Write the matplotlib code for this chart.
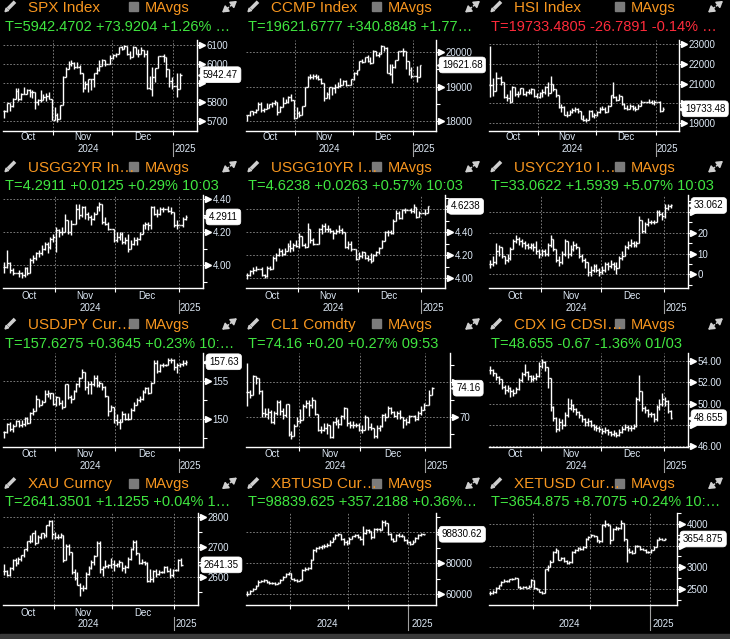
import numpy as np
import pandas as pd
import matplotlib
matplotlib.use("Agg")
import matplotlib.pyplot as plt
import matplotlib.transforms as mtransforms
from matplotlib.ticker import MultipleLocator, FuncFormatter
from matplotlib.patches import Rectangle, Polygon

plt.rcParams['font.family'] = ['Liberation Sans', 'DejaVu Sans']

W, H = 730, 639
ORANGE = '#f7961f'
GREEN = '#40e640'
RED = '#ff2b3b'
TICKC = '#dde8f5'
GRIDC = '#8c8c8c'
ICON = '#cfcfcf'

# trading days on the x axis (crypto panels run a few days later)
days = pd.bdate_range('2024-10-08', '2025-01-03')
crypto_days = pd.bdate_range('2024-10-10', '2025-01-08')

# ---- data: close / high / low per bar ----
spx_c = [5751, 5792, 5780, 5815, 5859, 5815, 5842, 5841, 5864, 5853, 5851, 5797, 5809, 5808, 5823, 5832, 5813, 5705, 5729, 5712,
         5782, 5929, 5973, 5996, 6001, 5984, 5985, 5949, 5871, 5893, 5917, 5917, 5949, 5969, 5987, 6021, 5999, 5999, 6032, 6047,
         6050, 6086, 6075, 6090, 6053, 6034, 6085, 6051, 6051, 6074, 6051, 5872, 5867, 5930, 5975, 6040, 6040, 6037, 5971, 5907,
         5882, 5882, 5869, 5942]
spx_h = [5758, 5796, 5790, 5822, 5871, 5870, 5846, 5878, 5869, 5866, 5863, 5834, 5817, 5862, 5842, 5847, 5851, 5775, 5772, 5741,
         5783, 5936, 5983, 6013, 6018, 6009, 6008, 5993, 5929, 5909, 5917, 5920, 5953, 5985, 6020, 6026, 6020, 5999, 6044, 6053,
         6055, 6089, 6092, 6099, 6088, 6065, 6092, 6079, 6078, 6085, 6058, 6070, 5935, 5982, 5978, 6040, 6040, 6049, 6006, 5940,
         5929, 5882, 5949, 5949]
spx_l = [5714, 5744, 5752, 5775, 5815, 5804, 5808, 5840, 5846, 5824, 5821, 5762, 5784, 5800, 5823, 5802, 5813, 5703, 5723, 5696,
         5721, 5864, 5935, 5973, 5988, 5970, 5975, 5944, 5853, 5866, 5851, 5860, 5880, 5948, 5963, 5993, 5990, 5999, 6019, 6022,
         6033, 6061, 6072, 6079, 6044, 6023, 6058, 6049, 6036, 6060, 6035, 5867, 5866, 5832, 5903, 5983, 6040, 6007, 5932, 5879,
         5868, 5882, 5825, 5888]

ccmp_c = [18183, 18291, 18282, 18342, 18503, 18316, 18367, 18374, 18490, 18540, 18573, 18277, 18415, 18518, 18567, 18712, 18607,
          18095, 18240, 18180, 18439, 18983, 19269, 19287, 19299, 19282, 19231, 19107, 18680, 18792, 18988, 18966, 19003, 19004,
          19054, 19175, 19060, 19060, 19218, 19404, 19480, 19735, 19701, 19860, 19737, 19687, 20034, 19902, 19927, 20173, 20109,
          19393, 19372, 19573, 19765, 20031, 20031, 20020, 19722, 19487, 19311, 19311, 19280, 19622]
ccmp_h = [18190, 18296, 18311, 18366, 18552, 18554, 18378, 18520, 18514, 18562, 18603, 18452, 18431, 18690, 18632, 18738, 18785,
          18402, 18410, 18295, 18445, 18999, 19313, 19350, 19367, 19370, 19329, 19250, 18965, 18835, 19000, 18991, 19072, 19119,
          19260, 19193, 19177, 19060, 19230, 19417, 19483, 19736, 19788, 19863, 19900, 19843, 20056, 20018, 20006, 20204, 20138,
          20137, 19643, 19662, 19774, 20031, 20031, 20118, 19925, 19641, 19565, 19311, 19588, 19630]
ccmp_l = [18007, 18157, 18186, 18232, 18384, 18265, 18263, 18370, 18425, 18420, 18471, 18195, 18305, 18505, 18540, 18541, 18600,
          18080, 18220, 18125, 18223, 18676, 19030, 19219, 19226, 19212, 19200, 19080, 18600, 18683, 18650, 18750, 18820, 18957,
          18990, 19060, 19025, 19060, 19137, 19199, 19345, 19530, 19684, 19730, 19701, 19642, 19796, 19885, 19850, 19985, 20035,
          19379, 19348, 19100, 19544, 19773, 20031, 19869, 19517, 19338, 19246, 19311, 19130, 19353]

hsi_c = [20927, 20637, 21252, 21252, 21092, 20319, 20287, 20079, 20804, 20478, 20499, 20760, 20489, 20590, 20599, 20701, 20381,
         20317, 20506, 20567, 20844, 20538, 20954, 20728, 20426, 19846, 19823, 19435, 19426, 19576, 19664, 19705, 19601, 19230,
         19151, 19159, 19603, 19366, 19424, 19550, 19746, 19742, 19560, 19865, 20414, 20311, 20155, 20397, 19971, 19795, 19700,
         19864, 19752, 19721, 19883, 20098, 20098, 20098, 20090, 20041, 20060, 20060, 19623, 19733]
hsi_h = [22900, 21290, 21600, 21252, 21400, 21000, 20500, 20700, 20900, 20800, 20650, 20800, 20700, 20650, 20750, 20800, 20700,
         20550, 20600, 20750, 20900, 21100, 21400, 21000, 20750, 20300, 19950, 19850, 19600, 19650, 19750, 19800, 19750, 19600,
         19400, 19250, 19650, 19650, 19500, 19600, 19800, 19850, 19800, 19900, 20450, 21100, 20400, 20500, 20300, 20000, 19900,
         19950, 19900, 19850, 19950, 20150, 20098, 20098, 20200, 20150, 20150, 20060, 20100, 19800]
hsi_l = [20300, 20360, 20800, 21252, 20950, 20270, 20100, 20000, 20200, 20400, 20350, 20500, 20450, 20400, 20500, 20500, 20350,
         20250, 20250, 20350, 20500, 20400, 20700, 20650, 20350, 19750, 19550, 19400, 19300, 19400, 19500, 19550, 19500, 19200,
         19100, 19050, 19150, 19300, 19250, 19350, 19500, 19650, 19500, 19550, 19900, 20250, 20100, 20200, 19900, 19700, 19650,
         19700, 19650, 19600, 19700, 19900, 20098, 20098, 20000, 19950, 19900, 20060, 19550, 19600]

us2y_c = [3.99, 4.01, 3.97, 3.95, 3.95, 3.95, 3.94, 3.98, 3.95, 4.03, 4.04, 4.07, 4.07, 4.10, 4.13, 4.11, 4.16, 4.17, 4.21, 4.20,
          4.20, 4.27, 4.20, 4.25, 4.25, 4.34, 4.30, 4.35, 4.31, 4.29, 4.28, 4.31, 4.35, 4.37, 4.26, 4.25, 4.22, 4.22, 4.15, 4.17,
          4.19, 4.14, 4.15, 4.10, 4.13, 4.15, 4.16, 4.19, 4.24, 4.25, 4.24, 4.35, 4.31, 4.31, 4.34, 4.34, 4.34, 4.33, 4.32, 4.24,
          4.24, 4.24, 4.28, 4.2911]
us2y_h = [4.02, 4.09, 4.02, 3.98, 3.95, 3.97, 3.96, 3.99, 3.99, 4.04, 4.06, 4.08, 4.09, 4.12, 4.14, 4.14, 4.17, 4.19, 4.23, 4.22,
          4.23, 4.31, 4.27, 4.27, 4.25, 4.37, 4.37, 4.36, 4.36, 4.32, 4.30, 4.32, 4.36, 4.38, 4.36, 4.29, 4.26, 4.22, 4.21, 4.20,
          4.20, 4.20, 4.17, 4.19, 4.15, 4.17, 4.17, 4.20, 4.25, 4.26, 4.26, 4.36, 4.36, 4.34, 4.35, 4.35, 4.34, 4.36, 4.35, 4.31,
          4.27, 4.24, 4.29, 4.30]
us2y_l = [3.95, 3.98, 3.95, 3.94, 3.95, 3.93, 3.92, 3.93, 3.94, 3.95, 4.01, 4.03, 4.05, 4.06, 4.09, 4.07, 4.10, 4.14, 4.08, 4.17,
          4.18, 4.20, 4.19, 4.18, 4.25, 4.28, 4.28, 4.29, 4.28, 4.27, 4.24, 4.27, 4.31, 4.33, 4.25, 4.24, 4.21, 4.22, 4.14, 4.14,
          4.15, 4.13, 4.13, 4.08, 4.10, 4.12, 4.12, 4.15, 4.19, 4.22, 4.21, 4.22, 4.30, 4.29, 4.30, 4.32, 4.34, 4.32, 4.31, 4.23,
          4.22, 4.24, 4.23, 4.27]

us10y_c = [4.03, 4.06, 4.07, 4.08, 4.08, 4.03, 4.02, 4.09, 4.08, 4.18, 4.20, 4.24, 4.21, 4.24, 4.28, 4.26, 4.29, 4.28, 4.37, 4.29,
           4.27, 4.43, 4.33, 4.30, 4.30, 4.43, 4.45, 4.43, 4.43, 4.41, 4.39, 4.41, 4.42, 4.40, 4.27, 4.30, 4.25, 4.25, 4.17, 4.19,
           4.23, 4.18, 4.17, 4.15, 4.20, 4.23, 4.26, 4.32, 4.40, 4.40, 4.39, 4.50, 4.57, 4.52, 4.59, 4.59, 4.59, 4.58, 4.62, 4.53,
           4.57, 4.57, 4.57, 4.6238]
us10y_h = [4.05, 4.07, 4.10, 4.11, 4.08, 4.10, 4.04, 4.11, 4.11, 4.19, 4.22, 4.26, 4.25, 4.26, 4.31, 4.33, 4.31, 4.33, 4.39, 4.36,
           4.31, 4.48, 4.43, 4.35, 4.30, 4.44, 4.47, 4.48, 4.46, 4.44, 4.42, 4.43, 4.46, 4.44, 4.40, 4.32, 4.32, 4.25, 4.24, 4.23,
           4.24, 4.23, 4.20, 4.22, 4.21, 4.24, 4.27, 4.33, 4.41, 4.42, 4.42, 4.51, 4.59, 4.58, 4.60, 4.61, 4.59, 4.61, 4.64, 4.61,
           4.58, 4.57, 4.60, 4.63]
us10y_l = [3.99, 4.02, 4.04, 4.06, 4.08, 4.02, 4.00, 4.01, 4.07, 4.08, 4.15, 4.19, 4.19, 4.20, 4.24, 4.23, 4.24, 4.27, 4.26, 4.28,
           4.26, 4.30, 4.31, 4.29, 4.30, 4.33, 4.38, 4.40, 4.40, 4.39, 4.34, 4.38, 4.39, 4.38, 4.26, 4.25, 4.24, 4.25, 4.16, 4.17,
           4.18, 4.17, 4.15, 4.13, 4.15, 4.19, 4.21, 4.26, 4.32, 4.37, 4.38, 4.38, 4.50, 4.51, 4.51, 4.57, 4.59, 4.57, 4.57, 4.52,
           4.53, 4.57, 4.55, 4.57]

yc_c = [5, 6, 11, 13, 9, 7, 8, 12, 16, 17, 16, 15, 14, 13, 14, 13, 11, 10, 11, 10, 14, 17, 12, 7, 6, 10, 16, 10, 12, 14,
        13, 9, 7, 6, 1, 2, 4, 2, 1, 2, 5, 4, 5, 4, 3, 8, 9, 13, 14, 15, 14, 15, 26, 21, 24, 25, 25, 25, 30, 29,
        28, 32, 33, 33.06]
yc_h = [7, 9, 15, 14, 13, 9, 10, 13, 17, 19, 18, 17, 16, 15, 15, 15, 16, 12, 12, 12, 15, 19, 17, 12, 9, 11, 17, 16, 14, 16,
        15, 13, 10, 8, 6, 4, 5, 5, 3, 4, 6, 6, 7, 6, 6, 9, 11, 14, 16, 17, 16, 16, 28, 25, 25, 27, 26, 26, 31, 31,
        30, 34, 34, 34]
yc_l = [3, 4, 5, 9, 8, 5, 6, 7, 12, 15, 14, 13, 12, 12, 12, 11, 10, 8, 9, 9, 9, 13, 11, 6, 4, 5, 9, 8, 9, 11,
        12, 8, 6, 3, -1, -1, 1, 1, -1, 0, 1, 2, 3, 2, 0, 3, 7, 9, 12, 13, 13, 13, 15, 20, 20, 23, 24, 24, 25, 28,
        26, 27, 31, 32]

jpy_c = [148.2, 149.3, 148.6, 149.1, 149.7, 149.2, 149.3, 150.1, 149.5, 150.8, 151.1, 152.7, 151.8, 152.3, 153.3, 153.4, 153.4,
         152.0, 152.9, 152.1, 151.6, 154.6, 152.9, 152.6, 153.7, 154.6, 155.5, 156.3, 154.3, 154.7, 154.6, 155.4, 154.5, 154.8,
         154.2, 153.1, 151.1, 151.6, 149.8, 149.6, 149.6, 150.6, 150.0, 150.0, 151.2, 151.9, 152.5, 152.6, 153.6, 154.1, 153.5,
         154.8, 157.4, 156.4, 157.2, 157.2, 157.2, 157.9, 157.9, 156.9, 157.2, 157.3, 157.5, 157.63]
jpy_h = [148.4, 149.4, 149.6, 149.3, 149.9, 149.9, 149.8, 150.3, 150.3, 150.9, 151.4, 153.2, 152.6, 152.5, 153.9, 153.8, 153.5,
         153.4, 153.1, 152.6, 152.5, 154.7, 154.7, 153.2, 153.9, 154.8, 155.6, 156.7, 156.3, 155.0, 155.0, 155.9, 155.9, 155.0,
         154.8, 154.4, 153.1, 151.9, 151.5, 150.7, 150.0, 151.0, 150.8, 150.8, 151.4, 152.2, 152.8, 153.1, 153.9, 154.2, 154.2,
         154.9, 157.9, 157.9, 157.3, 157.4, 157.3, 158.1, 158.1, 158.0, 157.4, 157.4, 157.8, 157.8]
jpy_l = [147.4, 148.1, 148.4, 148.3, 149.0, 148.9, 148.9, 149.1, 149.3, 149.4, 150.5, 151.0, 151.6, 151.8, 152.5, 152.9, 152.6,
         151.8, 151.7, 151.8, 151.3, 151.6, 152.6, 152.1, 152.6, 153.6, 154.3, 155.4, 153.9, 153.3, 153.3, 154.4, 154.2, 154.2,
         153.8, 152.9, 150.4, 151.1, 149.5, 149.2, 148.7, 149.6, 149.9, 149.8, 150.0, 151.1, 151.8, 152.3, 152.5, 153.4, 153.3,
         153.5, 154.8, 156.1, 156.3, 156.9, 157.0, 157.2, 157.5, 156.5, 156.1, 156.9, 157.0, 157.2]

cl_c = [73.6, 73.2, 75.9, 75.6, 73.8, 70.6, 70.4, 70.7, 69.2, 70.6, 72.1, 70.8, 70.2, 71.8, 67.4, 67.2, 68.6, 69.3, 69.5, 71.5,
        72.0, 71.7, 72.4, 70.4, 68.0, 68.1, 68.4, 68.7, 67.0, 69.2, 69.4, 68.9, 70.1, 71.2, 69.0, 68.8, 68.7, 68.8, 68.0, 68.1,
        69.9, 68.5, 68.3, 67.2, 68.4, 68.6, 70.3, 70.0, 71.3, 70.7, 70.1, 70.6, 69.9, 69.5, 69.2, 70.1, 70.1, 69.6, 70.6, 71.0,
        71.7, 71.7, 73.1, 74.16]
cl_h = [77.8, 73.9, 76.1, 75.9, 75.5, 73.9, 71.2, 71.2, 70.9, 70.8, 72.4, 72.4, 71.2, 71.9, 68.9, 67.9, 68.9, 69.9, 71.1, 71.8,
        72.4, 72.4, 72.8, 72.3, 70.3, 68.6, 69.0, 69.0, 68.8, 69.3, 70.0, 69.7, 70.3, 71.4, 71.0, 69.3, 69.3, 69.0, 69.1, 68.7,
        70.2, 70.0, 69.0, 68.3, 68.8, 68.7, 70.4, 70.6, 71.5, 71.4, 70.8, 70.8, 71.0, 70.0, 69.8, 70.3, 70.1, 70.3, 70.8, 71.5,
        72.0, 71.7, 73.9, 74.4]
cl_l = [71.5, 72.7, 73.1, 74.8, 73.3, 70.0, 70.0, 69.7, 69.0, 68.9, 70.2, 70.2, 69.6, 70.0, 67.1, 66.7, 67.2, 68.6, 69.0, 70.0,
        71.2, 70.1, 71.3, 70.2, 67.9, 67.6, 67.9, 67.5, 66.9, 66.9, 68.7, 68.4, 68.7, 69.6, 68.6, 68.3, 68.3, 68.5, 67.9, 67.6,
        68.1, 68.1, 68.1, 66.9, 66.9, 67.9, 68.5, 69.4, 69.9, 70.4, 69.9, 69.6, 69.6, 68.4, 68.7, 69.1, 70.1, 69.3, 69.5, 70.2,
        70.9, 71.7, 71.7, 73.3]

cdx_c = [53.2, 52.9, 52.5, 52.3, 51.6, 51.3, 51.5, 51.2, 51.0, 51.4, 52.2, 52.8, 53.0, 52.6, 52.3, 52.4, 52.6, 53.6, 53.9, 53.5,
         52.4, 49.7, 48.6, 47.6, 48.2, 48.0, 48.9, 49.6, 49.9, 49.5, 49.2, 48.9, 48.5, 48.2, 48.3, 48.0, 47.8, 47.7, 47.6, 47.4,
         47.5, 47.3, 47.1, 47.2, 47.0, 47.3, 47.6, 47.8, 47.7, 47.7, 47.9, 50.4, 51.2, 49.6, 49.4, 49.0, 49.0, 48.5, 49.7, 50.0,
         50.4, 50.2, 49.3, 48.655]
cdx_h = [53.6, 53.3, 52.9, 52.6, 52.3, 51.8, 51.8, 51.6, 51.4, 51.6, 52.4, 53.0, 53.8, 53.1, 52.7, 52.7, 52.9, 53.9, 54.2, 54.0,
         53.5, 50.5, 49.8, 48.7, 48.6, 48.5, 49.2, 50.5, 50.4, 50.0, 49.6, 49.3, 48.9, 48.6, 48.6, 48.4, 48.1, 48.0, 47.9, 47.7,
         47.8, 47.6, 47.4, 47.5, 47.3, 47.6, 47.9, 48.1, 48.0, 48.0, 48.1, 50.6, 52.7, 51.0, 49.8, 49.5, 49.2, 49.1, 49.9, 50.4,
         51.0, 50.6, 50.3, 49.4]
cdx_l = [52.8, 52.6, 52.2, 51.9, 51.4, 50.9, 51.1, 50.6, 50.7, 51.0, 51.3, 52.0, 52.6, 52.2, 52.0, 52.1, 52.2, 52.5, 53.4, 53.1,
         51.5, 49.3, 48.3, 47.3, 47.4, 47.6, 47.9, 48.7, 49.4, 49.2, 48.9, 48.6, 48.2, 47.9, 47.9, 47.8, 47.5, 47.4, 47.3, 47.1,
         47.2, 47.0, 46.9, 46.9, 46.8, 46.9, 47.2, 47.5, 47.4, 47.4, 47.6, 47.8, 50.2, 49.3, 49.1, 48.7, 48.7, 48.2, 48.3, 49.4,
         49.8, 49.8, 49.1, 48.5]

xau_c = [2622, 2608, 2630, 2657, 2649, 2662, 2674, 2693, 2721, 2720, 2749, 2716, 2736, 2747, 2743, 2774, 2788, 2744, 2736, 2736,
         2743, 2659, 2706, 2685, 2619, 2598, 2573, 2565, 2563, 2612, 2631, 2651, 2670, 2716, 2626, 2633, 2638, 2640, 2643, 2640,
         2643, 2650, 2632, 2633, 2660, 2694, 2718, 2681, 2648, 2652, 2646, 2587, 2594, 2622, 2612, 2618, 2618, 2634, 2621, 2606,
         2624, 2624, 2658, 2641.35]
xau_h = [2645, 2625, 2633, 2661, 2666, 2668, 2675, 2696, 2722, 2740, 2749, 2758, 2740, 2749, 2746, 2775, 2790, 2790, 2751, 2745,
         2749, 2743, 2710, 2710, 2685, 2626, 2618, 2581, 2575, 2616, 2639, 2656, 2674, 2721, 2721, 2636, 2657, 2645, 2665, 2656,
         2649, 2657, 2652, 2641, 2668, 2697, 2726, 2725, 2681, 2660, 2655, 2651, 2626, 2625, 2626, 2625, 2620, 2637, 2638, 2632,
         2629, 2627, 2661, 2664]
xau_l = [2606, 2604, 2603, 2625, 2638, 2644, 2654, 2668, 2688, 2714, 2718, 2708, 2715, 2728, 2731, 2735, 2770, 2729, 2728, 2729,
         2732, 2652, 2662, 2675, 2610, 2590, 2573, 2537, 2555, 2562, 2606, 2628, 2640, 2670, 2614, 2605, 2631, 2630, 2631, 2622,
         2633, 2635, 2622, 2614, 2632, 2659, 2692, 2675, 2643, 2643, 2640, 2583, 2583, 2585, 2602, 2608, 2615, 2614, 2616, 2597,
         2602, 2620, 2622, 2636]

xbt_c = [60300, 62000, 63200, 65200, 68000, 68500, 69000, 67800, 67400, 67000, 66500, 67200, 69000, 71000, 73000, 73500, 70000,
         69000, 68500, 69200, 75600, 76500, 76800, 82000, 88700, 89800, 90500, 91000, 91500, 92000, 94000, 96000, 98500, 99000,
         96000, 93500, 93000, 96000, 97500, 98500, 97000, 95500, 99600, 101500, 100800, 97000, 102000, 102500, 101800, 106500,
         106000, 99000, 95500, 94500, 98500, 98000, 97500, 95000, 93500, 92500, 94000, 96500, 98300, 98900, 98830]
xbt_h = [61800, 62800, 64000, 66000, 68800, 69200, 69800, 69200, 68500, 68000, 67500, 67800, 69500, 71800, 73600, 74000, 73200,
         70500, 69800, 70000, 76500, 77500, 77500, 82500, 89500, 90500, 91500, 92000, 92500, 93000, 94800, 96800, 99200, 99600,
         98500, 96500, 94800, 96800, 98000, 99200, 98800, 97800, 104000, 102000, 102200, 101000, 102800, 103200, 102800, 108300,
         107800, 106200, 99500, 96500, 99200, 99500, 98800, 97800, 95800, 94200, 94800, 97000, 98800, 99600, 99200]
xbt_l = [59000, 60000, 61800, 63000, 65000, 67500, 68000, 67300, 66800, 66500, 66000, 66300, 67000, 68800, 70800, 72500, 69500,
         68500, 67800, 68300, 69000, 74800, 75800, 76500, 81800, 87500, 89000, 89500, 90000, 90800, 91500, 93500, 95800, 97500,
         95000, 92000, 91800, 92800, 95500, 96800, 96500, 94800, 92000, 99000, 99500, 96000, 96500, 101000, 101000, 101500,
         104500, 98500, 95000, 93800, 94300, 97200, 96800, 94500, 92800, 91800, 92200, 93800, 96000, 97800, 98400]

xet_c = [2400, 2420, 2520, 2580, 2670, 2690, 2680, 2720, 2740, 2750, 2550, 2520, 2540, 2530, 2550, 2700, 2510, 2490, 2440, 2410,
         2950, 3010, 3130, 3360, 3400, 3180, 3210, 3150, 3100, 3120, 3350, 3390, 3440, 3420, 3470, 3650, 3700, 3740, 3720, 3620,
         3600, 3980, 4000, 3980, 3640, 3880, 3920, 3900, 4030, 3650, 3400, 3360, 3330, 3500, 3490, 3420, 3410, 3360, 3350, 3400,
         3470, 3630, 3660, 3640, 3655]
xet_h = [2450, 2470, 2540, 2600, 2690, 2720, 2710, 2740, 2760, 2770, 2750, 2570, 2570, 2560, 2580, 2720, 2710, 2530, 2500, 2450,
         2960, 3050, 3160, 3380, 3440, 3400, 3240, 3230, 3170, 3150, 3370, 3420, 3470, 3460, 3490, 3680, 3730, 3760, 3750, 3720,
         3640, 4000, 4090, 4020, 3980, 3900, 3950, 3940, 4100, 4030, 3660, 3440, 3400, 3520, 3520, 3500, 3440, 3420, 3380, 3420,
         3490, 3650, 3690, 3680, 3670]
xet_l = [2360, 2390, 2410, 2500, 2570, 2650, 2650, 2670, 2700, 2720, 2530, 2500, 2510, 2510, 2510, 2540, 2490, 2470, 2420, 2390,
         2400, 2920, 3000, 3120, 3330, 3160, 3160, 3120, 3080, 3080, 3110, 3330, 3380, 3390, 3400, 3450, 3640, 3690, 3690, 3580,
         3560, 3590, 3940, 3950, 3550, 3630, 3860, 3870, 3880, 3600, 3130, 3320, 3300, 3320, 3460, 3400, 3390, 3340, 3320, 3340,
         3390, 3460, 3620, 3620, 3630]

titles = ["SPX Index", "CCMP Index", "HSI Index",
          "USGG2YR In\u2026", "USGG10YR I\u2026", "USYC2Y10 I\u2026",
          "USDJPY Cur\u2026", "CL1 Comdty", "CDX IG CDSI\u2026",
          "XAU Curncy", "XBTUSD Cur\u2026", "XETUSD Cur\u2026"]
quotes = ["T=5942.4702 +73.9204 +1.26% \u2026", "T=19621.6777 +340.8848 +1.77\u2026", "T=19733.4805 -26.7891 -0.14% \u2026",
          "T=4.2911 +0.0125 +0.29% 10:03", "T=4.6238 +0.0263 +0.57% 10:03", "T=33.0622 +1.5939 +5.07% 10:03",
          "T=157.6275 +0.3645 +0.23% 10:\u2026", "T=74.16 +0.20 +0.27% 09:53", "T=48.655 -0.67 -1.36% 01/03",
          "T=2641.3501 +1.1255 +0.04% 1\u2026", "T=98839.625 +357.2188 +0.36%\u2026", "T=3654.875 +8.7075 +0.24% 10:\u2026"]
last_labels = ["5942.47", "19621.68", "19733.48", "4.2911", "4.6238", "33.062",
               "157.63", "74.16", "48.655", "2641.35", "98830.62", "3654.875"]
series = [(spx_c, spx_h, spx_l), (ccmp_c, ccmp_h, ccmp_l), (hsi_c, hsi_h, hsi_l),
          (us2y_c, us2y_h, us2y_l), (us10y_c, us10y_h, us10y_l), (yc_c, yc_h, yc_l),
          (jpy_c, jpy_h, jpy_l), (cl_c, cl_h, cl_l), (cdx_c, cdx_h, cdx_l),
          (xau_c, xau_h, xau_l), (xbt_c, xbt_h, xbt_l), (xet_c, xet_h, xet_l)]

# axis settings per panel: major step, minor step, label format, y range
y_steps = [100, 1000, 1000, 0.2, 0.2, 10, 5, 5, 2, 100, 20000, 500]
y_minor = [None, 500, None, 0.1, 0.1, 5, 2.5, 2.5, None, 50, 10000, 250]
y_fmt = ["{:.0f}", "{:.0f}", "{:.0f}", "{:.2f}", "{:.2f}", "{:.0f}", "{:.0f}", "{:.0f}", "{:.2f}", "{:.0f}", "{:.0f}", "{:.0f}"]
y_lims = [(5647, 6124), (17727, 20338), (18622, 23180), (3.859, 4.424), (3.913, 4.722), (-6.7, 38.1),
          (146.3, 158.8), (65.6, 79.3), (45.9, 54.8), (2507, 2815), (52830, 112640), (2128, 4256)]

# layout in pixels
col_x = [0, 243, 486]
title_base = [11.7, 171.7, 329, 488.3]
quote_base = [30.7, 190, 347.7, 506]
plot_top = [40, 195, 353, 513]
plot_bot = [131, 288.3, 446.7, 605]
month_y = [137.5, 296, 454, 613]
year_y = [149.5, 308, 466, 624]
plot_right = [[197, 436, 679], [203, 445, 688], [203, 450, 688], [198, 436, 677]]

fig = plt.figure(figsize=(W / 100, H / 100), dpi=100, facecolor='black')
ov = fig.add_axes([0, 0, 1, 1])
ov.set_xlim(0, W)
ov.set_ylim(H, 0)
ov.axis('off')
ov.add_patch(Rectangle((0, 634), W, 5, color='#3a3a3a'))


def pencil(x, y):
    ov.plot([x - 2, x + 5], [y + 2, y - 5], color=ICON, lw=2.6, solid_capstyle='butt')
    ov.add_patch(Polygon([(x - 1.3, y + 3.8), (x - 3.8, y + 1.3), (x - 5.0, y + 5.0)], closed=True, color=ICON))


def expand(x, y):
    for s in (1, -1):
        ov.annotate('', xy=(x + s * 7.5, y - s * 5.8), xytext=(x + s * 1.0, y - s * 0.8),
                    arrowprops=dict(arrowstyle='-|>,head_length=0.35,head_width=0.22', color=ICON, lw=1.2,
                                    shrinkA=0, shrinkB=0))


def draw_panel(k):
    r, c = divmod(k, 3)
    crypto = k >= 10
    ox = col_x[c]
    tb = title_base[r]

    # header
    pencil(ox + 10, tb - 5)
    ov.text(ox + 28, tb, titles[k], color=ORANGE, fontsize=11, va='baseline')
    ov.add_patch(Rectangle((ox + 129, tb - 9.8), 9, 9, color='#7b7b7b'))
    ov.text(ox + 145, tb, "MAvgs", color=ORANGE, fontsize=10.5, va='baseline')
    expand(ox + 229.5, tb - 5)
    ov.text(ox + 5, quote_base[r], quotes[k], color=RED if k == 2 else GREEN, fontsize=10.5, va='baseline')

    left, right = ox + 3, plot_right[r][c]
    top, bot = plot_top[r], plot_bot[r]
    ax = fig.add_axes([left / W, 1 - bot / H, (right - left) / W, (bot - top) / H])
    ax.set_facecolor('black')

    cl, hi, lo = (np.asarray(a, float) for a in series[k])
    n = min(len(cl), len(hi), len(lo))
    cl, hi, lo = cl[:n], hi[:n], lo[:n]
    x = np.arange(n)
    op = np.r_[cl[0], cl[:-1]]
    ax.vlines(x, np.minimum.reduce([lo, op, cl]), np.maximum.reduce([hi, op, cl]), color='white', lw=1.0)
    ax.hlines(op, x - 0.5, x, color='white', lw=1.0)
    ax.hlines(cl, x, x + 0.5, color='white', lw=1.0)

    d = crypto_days if crypto else days
    x0, x1 = -0.5, (68.5 if crypto else 69.0)
    ax.set_xlim(x0, x1)
    ylo, yhi = y_lims[k]
    ax.set_ylim(ylo, yhi)

    bounds = [i - 0.5 for i in range(1, len(d)) if d.month[i] != d.month[i - 1]]
    ybound = [i - 0.5 for i in range(1, len(d)) if d.year[i] != d.year[i - 1]][0]

    # right axis; labels hidden under the value box are left out
    last = cl[-1]
    hpx = bot - top
    near = 9.0 * (yhi - ylo) / hpx
    ax.yaxis.tick_right()
    ax.yaxis.set_major_locator(MultipleLocator(y_steps[k]))
    if y_minor[k]:
        ax.yaxis.set_minor_locator(MultipleLocator(y_minor[k]))
    ax.yaxis.set_major_formatter(FuncFormatter(
        lambda v, pos, f=y_fmt[k], lv=last, th=near: '' if abs(v - lv) < th else f.format(v + 0.0)))
    ax.tick_params(axis='y', which='major', length=3, width=0.8, color='white', pad=3.8,
                   labelsize=7, labelcolor=TICKC)
    ax.tick_params(axis='y', which='minor', length=3, width=0.8, color='white')
    ax.grid(axis='y', which='major', color=GRIDC, lw=0.6, ls=(0, (2, 2)))
    for b in bounds:
        ax.axvline(b, color=GRIDC, lw=0.6, ls=(0, (2, 2)))
    ax.set_xticks(bounds)
    ax.tick_params(axis='x', length=3, width=0.8, color='white', labelbottom=False)

    for s in ('top', 'left'):
        ax.spines[s].set_visible(False)
    for s in ('right', 'bottom'):
        ax.spines[s].set_color('white')
        ax.spines[s].set_linewidth(1.0)

    # arrow heads on labelled ticks
    majors = [v for v in ax.yaxis.get_majorticklocs() if ylo <= v <= yhi]
    tr = mtransforms.blended_transform_factory(ax.transAxes, ax.transData)
    arrow_off = mtransforms.ScaledTranslation(4.8 / 100, 0, fig.dpi_scale_trans)
    ax.plot(np.ones(len(majors)), majors, ls='none', marker='>', ms=4.0, color='white',
            transform=tr + arrow_off, clip_on=False)

    # last value box
    ptr_off = mtransforms.ScaledTranslation(3.5 / 100, 0, fig.dpi_scale_trans)
    ax.plot([1], [last], marker='<', ms=4.5, color='white', transform=tr + ptr_off, clip_on=False, zorder=6)
    ax.annotate(last_labels[k], xy=(1, last), xycoords=tr, xytext=(6, 0), textcoords='offset pixels',
                va='center', ha='left', fontsize=7, color='black', zorder=7, annotation_clip=False,
                bbox=dict(boxstyle='round,pad=0.3,rounding_size=0.35', fc='white', ec='white', lw=0.5))

    # month / year labels below the axis
    trx = mtransforms.blended_transform_factory(ax.transData, ax.transAxes)
    fy = lambda ypx: (bot - ypx) / hpx
    edges = [x0] + bounds
    if not crypto:
        for j in range(len(bounds)):
            name = d[int(np.ceil(edges[j]))].strftime('%b')
            ax.text((edges[j] + edges[j + 1]) / 2, fy(month_y[r]), name, transform=trx, ha='center', va='center',
                    fontsize=7, color=TICKC)
    ax.text((x0 + ybound) / 2, fy(year_y[r]), str(d.year[0]), transform=trx, ha='center', va='center',
            fontsize=7, color=TICKC)
    ax.text((ybound + x1) / 2, fy(year_y[r]), str(d.year[-1]), transform=trx, ha='center', va='center',
            fontsize=7, color=TICKC)
    y_from = fy(bot + 1) if crypto else fy(bot + 12)
    ax.plot([ybound, ybound], [y_from, fy(bot + 25)], transform=trx, color='#a0a0a0', lw=0.8, clip_on=False)


for k in range(12):
    draw_panel(k)

fig.savefig('out.png', dpi=100, facecolor='black')
